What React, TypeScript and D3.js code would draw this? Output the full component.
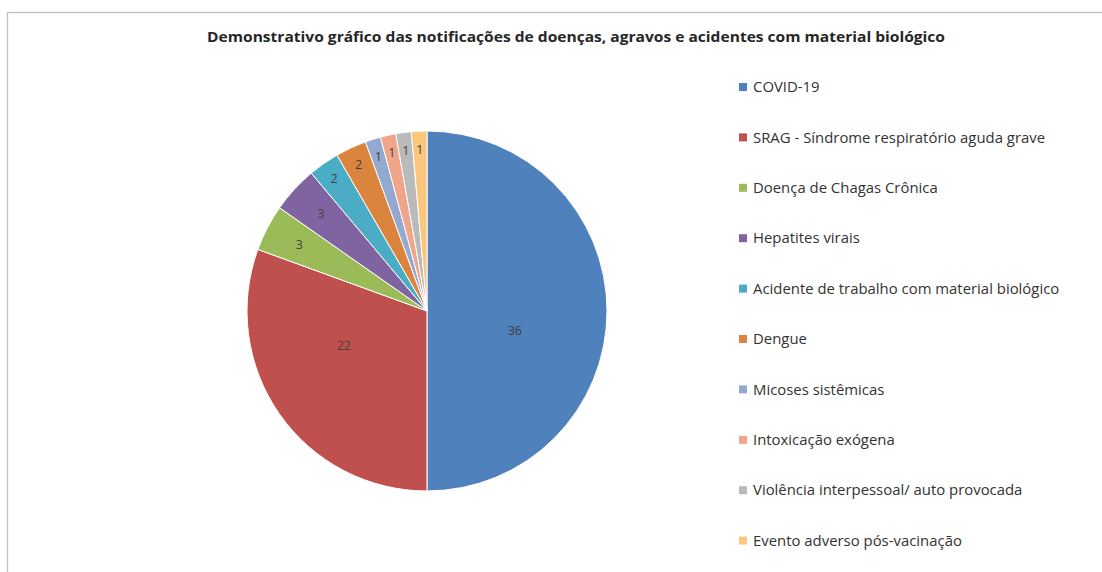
import React, { useEffect, useRef } from 'react';
import * as d3 from 'd3';

const categories = [
  'COVID-19',
  'SRAG - Síndrome respiratório aguda grave',
  'Doença de Chagas Crônica',
  'Hepatites virais',
  'Acidente de trabalho com material biológico',
  'Dengue',
  'Micoses sistêmicas',
  'Intoxicação exógena',
  'Violência interpessoal/ auto provocada',
  'Evento adverso pós-vacinação',
];

const counts = [36, 22, 3, 3, 2, 2, 1, 1, 1, 1];

const colors = [
  '#4F81BD', '#C0504D', '#9BBB59', '#8064A2', '#4BACC6',
  '#DB843D', '#93A9CF', '#F0A58A', '#BABABA', '#FAC77D',
];

const title = 'Demonstrativo gráfico das notificações de doenças, agravos e acidentes com material biológico';

export default function App() {
  const svgRef = useRef<SVGSVGElement>(null);

  const width = 1102;
  const height = 572;
  const cx = 427;
  const cy = 311;
  const radius = 180;

  useEffect(() => {
    const svg = d3.select(svgRef.current)
      .attr('width', width)
      .attr('height', height);

    svg.selectAll('*').remove();

    svg.append('rect')
      .attr('width', width)
      .attr('height', height)
      .attr('fill', '#fff');

    // chart area border (runs off the right and bottom edge)
    svg.append('rect')
      .attr('x', 7.5)
      .attr('y', 12.5)
      .attr('width', width + 20)
      .attr('height', height + 20)
      .attr('fill', 'none')
      .attr('stroke', '#BFBFBF')
      .attr('stroke-width', 1.3);

    svg.append('text')
      .attr('x', 576)
      .attr('y', 42)
      .attr('text-anchor', 'middle')
      .attr('font-family', '"Open Sans", sans-serif')
      .attr('font-weight', 'bold')
      .attr('font-size', 14.5)
      .attr('fill', '#262626')
      .attr('textLength', 738)
      .attr('lengthAdjust', 'spacingAndGlyphs')
      .text(title);

    const data = categories.map((c, i) => ({ name: c, value: counts[i], color: colors[i] }));

    const pie = d3.pie<any>()
      .sort(null)
      .value(d => d.value);

    const arc = d3.arc<any>()
      .innerRadius(0)
      .outerRadius(radius);

    const arcs = pie(data);

    const g = svg.append('g')
      .attr('transform', `translate(${cx}, ${cy})`);

    g.selectAll('path')
      .data(arcs)
      .enter()
      .append('path')
      .attr('d', arc)
      .attr('fill', d => d.data.color)
      .attr('stroke', '#fff')
      .attr('stroke-width', 1);

    // big slices: label half way in, turned a bit clockwise (like excel best fit)
    // small slices: label near the rim
    g.selectAll('text')
      .data(arcs)
      .enter()
      .append('text')
      .attr('transform', d => {
        const big = d.data.value >= 10;
        const r = big ? radius * 0.5 : radius * (d.data.value >= 3 ? 0.8 : 0.9);
        const a = (d.startAngle + d.endAngle) / 2 + (big ? 0.22 : 0);
        return `translate(${Math.sin(a) * r}, ${-Math.cos(a) * r})`;
      })
      .attr('text-anchor', 'middle')
      .attr('dy', '0.35em')
      .attr('font-family', '"Open Sans", sans-serif')
      .attr('font-size', 12.5)
      .attr('fill', '#404040')
      .text(d => d.data.value);

    const legend = svg.append('g')
      .attr('transform', 'translate(739, 87)');

    const row = legend.selectAll('g')
      .data(data)
      .enter()
      .append('g')
      .attr('transform', (d, i) => `translate(0, ${i * 50.4})`);

    row.append('rect')
      .attr('x', 0)
      .attr('y', -4)
      .attr('width', 8)
      .attr('height', 8)
      .attr('fill', d => d.color);

    row.append('text')
      .attr('x', 14)
      .attr('dy', '0.35em')
      .attr('font-family', '"Open Sans", sans-serif')
      .attr('font-size', 14.9)
      .attr('fill', '#333')
      .text(d => d.name);
  });

  return (
    <div style={{ position: 'absolute', left: 0, top: 0 }}>
      <svg ref={svgRef} style={{ display: 'block' }}></svg>
    </div>
  );
}
